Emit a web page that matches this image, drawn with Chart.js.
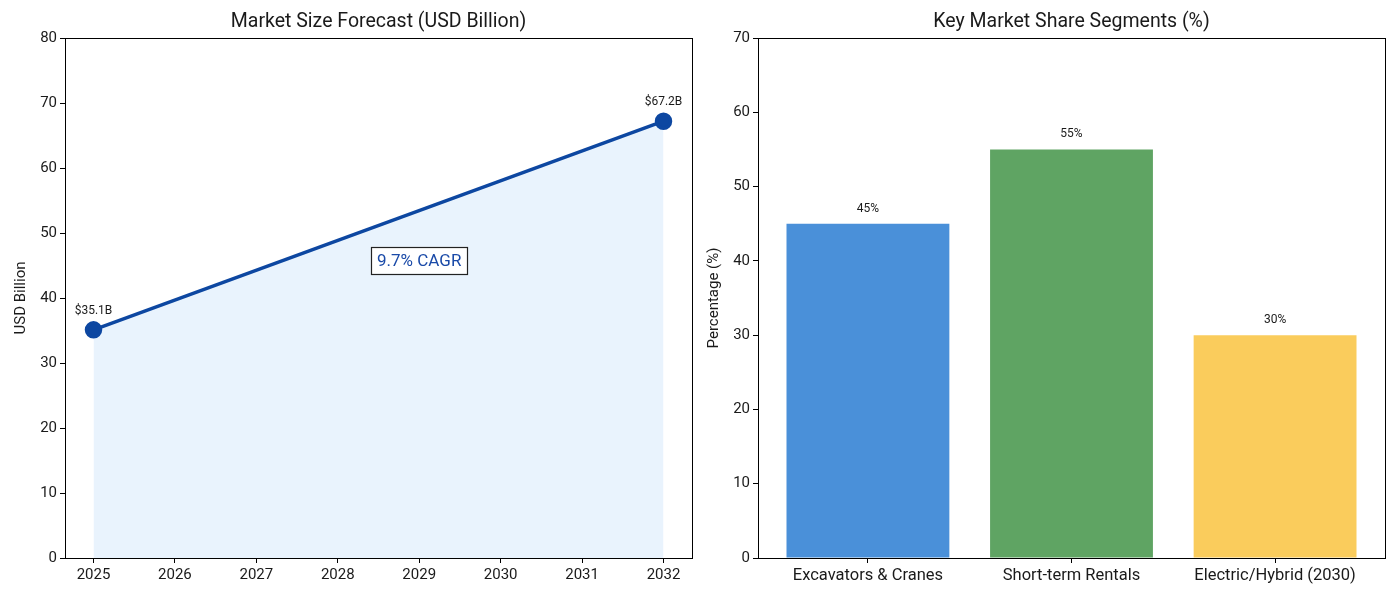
<!DOCTYPE html>
<html>
<head>
<meta charset="utf-8">
<script src="https://cdn.jsdelivr.net/npm/chart.js@4"></script>
<style>
  html, body { margin: 0; padding: 0; background: #fff; }
  .wrap { position: absolute; top: 0; width: 700px; height: 600px; }
  #w1 { left: 0; }
  #w2 { left: 700px; }
</style>
</head>
<body>
<div class="wrap" id="w1"><canvas id="c1" width="700" height="600"></canvas></div>
<div class="wrap" id="w2"><canvas id="c2" width="700" height="600"></canvas></div>
<script>
// ---- Data ----
const years = [2025, 2032];
const marketSize = [35.1, 67.2];
const sizeLabels = ['$35.1B', '$67.2B'];
const yearTicks = [2025, 2026, 2027, 2028, 2029, 2030, 2031, 2032];
const cagrText = '9.7% CAGR';
const cagrPos = [2029, 45.8];

const segments = ['Excavators & Cranes', 'Short-term Rentals', 'Electric/Hybrid (2030)'];
const shares = [45, 55, 30];
const shareLabels = ['45%', '55%', '30%'];
const segmentColors = ['#4A90D9', '#5FA463', '#FACC5C'];

const FONT = 'Roboto, "Noto Sans", sans-serif';
const TXT = '#1a1a1a';

function framePlugin(title) {
  return {
    id: 'frame',
    afterDraw(chart) {
      const ctx = chart.ctx, a = chart.chartArea;
      ctx.save();
      ctx.strokeStyle = '#000';
      ctx.lineWidth = 1;
      ctx.strokeRect(Math.round(a.left) + 0.5, Math.round(a.top) + 0.5,
                     Math.round(a.right - a.left), Math.round(a.bottom - a.top));
      ctx.fillStyle = TXT;
      ctx.font = '19.5px ' + FONT;
      ctx.textAlign = 'center';
      ctx.textBaseline = 'middle';
      ctx.fillText(title, (a.left + a.right) / 2, 22);
      ctx.restore();
    }
  };
}

const tickFont = { family: FONT, size: 15 };
const catFont = { family: FONT, size: 16.5 };
const axisTitleFont = { family: FONT, size: 15 };

function fixX() {
  return s => { s.height = 42; s.paddingLeft = 0; s.paddingRight = 0; };
}

// ---- Chart 1 ----
new Chart(document.getElementById('c1'), {
  type: 'line',
  data: {
    datasets: [{
      data: years.map((x, i) => ({ x: x, y: marketSize[i] })),
      borderColor: '#0D47A1',
      borderWidth: 3.5,
      backgroundColor: 'rgba(227,240,252,0.8)',
      fill: 'origin',
      pointRadius: 7,
      pointBackgroundColor: '#0D47A1',
      pointBorderColor: '#0D47A1',
      pointHoverRadius: 7,
      tension: 0
    }]
  },
  options: {
    responsive: false,
    animation: false,
    layout: { autoPadding: false, padding: { left: 0, top: 38, right: 8, bottom: 0 } },
    plugins: { legend: { display: false }, tooltip: { enabled: false } },
    scales: {
      x: {
        type: 'linear', min: 2024.65, max: 2032.35,
        afterBuildTicks: s => { s.ticks = yearTicks.map(v => ({ value: v })); },
        afterFit: fixX(),
        ticks: { font: tickFont, color: TXT, padding: 3, callback: v => String(v), maxRotation: 0, autoSkip: false },
        grid: { drawOnChartArea: false, drawTicks: true, tickLength: 5, color: '#000', offset: false },
        border: { color: '#000' }
      },
      y: {
        min: 0, max: 80,
        ticks: { stepSize: 10, font: tickFont, color: TXT, padding: 3 },
        afterFit: s => { s.width = 65; },
        grid: { drawOnChartArea: false, drawTicks: true, tickLength: 5, color: '#000' },
        border: { color: '#000' },
        title: { display: true, text: 'USD Billion', font: axisTitleFont, color: TXT, padding: { top: 12, bottom: 0 } }
      }
    }
  },
  plugins: [framePlugin('Market Size Forecast (USD Billion)'), {
    id: 'labels1',
    afterDraw(chart) {
      const ctx = chart.ctx, xs = chart.scales.x, ys = chart.scales.y;
      ctx.save();
      ctx.fillStyle = TXT;
      ctx.font = '12px ' + FONT;
      ctx.textAlign = 'center';
      ctx.textBaseline = 'middle';
      years.forEach((yr, i) => {
        ctx.fillText(sizeLabels[i], xs.getPixelForValue(yr), ys.getPixelForValue(marketSize[i]) - 19);
      });
      const cx = xs.getPixelForValue(cagrPos[0]), cy = ys.getPixelForValue(cagrPos[1]);
      ctx.font = '17px ' + FONT;
      const w = ctx.measureText(cagrText).width + 12, h = 27;
      ctx.fillStyle = '#fff';
      ctx.fillRect(cx - w / 2, cy - h / 2, w, h);
      ctx.strokeStyle = '#222';
      ctx.lineWidth = 1.2;
      ctx.strokeRect(Math.round(cx - w / 2) + 0.5, Math.round(cy - h / 2) + 0.5, Math.round(w), h);
      ctx.fillStyle = '#1A4AA8';
      ctx.fillText(cagrText, cx, cy + 1);
      ctx.restore();
    }
  }]
});

// ---- Chart 2 ----
new Chart(document.getElementById('c2'), {
  type: 'bar',
  data: {
    datasets: [{
      data: segments.map((c, i) => ({ x: i, y: shares[i] })),
      backgroundColor: segmentColors,
      borderWidth: 0,
      barPercentage: 0.8,
      categoryPercentage: 1.0
    }]
  },
  options: {
    responsive: false,
    animation: false,
    layout: { autoPadding: false, padding: { left: 0, top: 38, right: 15, bottom: 0 } },
    plugins: { legend: { display: false }, tooltip: { enabled: false } },
    scales: {
      x: {
        type: 'linear', min: -0.54, max: 2.54, offset: false,
        afterBuildTicks: s => { s.ticks = segments.map((c, i) => ({ value: i })); },
        afterFit: fixX(),
        ticks: { font: catFont, color: TXT, padding: 3, callback: v => segments[v], maxRotation: 0, autoSkip: false },
        grid: { drawOnChartArea: false, drawTicks: true, tickLength: 5, color: '#000', offset: false },
        border: { color: '#000' }
      },
      y: {
        min: 0, max: 70,
        ticks: { stepSize: 10, font: tickFont, color: TXT, padding: 3 },
        afterFit: s => { s.width = 58; },
        grid: { drawOnChartArea: false, drawTicks: true, tickLength: 5, color: '#000' },
        border: { color: '#000' },
        title: { display: true, text: 'Percentage (%)', font: axisTitleFont, color: TXT, padding: { top: 5, bottom: 0 } }
      }
    }
  },
  plugins: [framePlugin('Key Market Share Segments (%)'), {
    id: 'labels2',
    afterDraw(chart) {
      const ctx = chart.ctx, xs = chart.scales.x, ys = chart.scales.y;
      ctx.save();
      ctx.fillStyle = TXT;
      ctx.font = '12px ' + FONT;
      ctx.textAlign = 'center';
      ctx.textBaseline = 'middle';
      shares.forEach((v, i) => {
        ctx.fillText(shareLabels[i], xs.getPixelForValue(i), ys.getPixelForValue(v) - 15);
      });
      ctx.restore();
    }
  }]
});
</script>
</body>
</html>
